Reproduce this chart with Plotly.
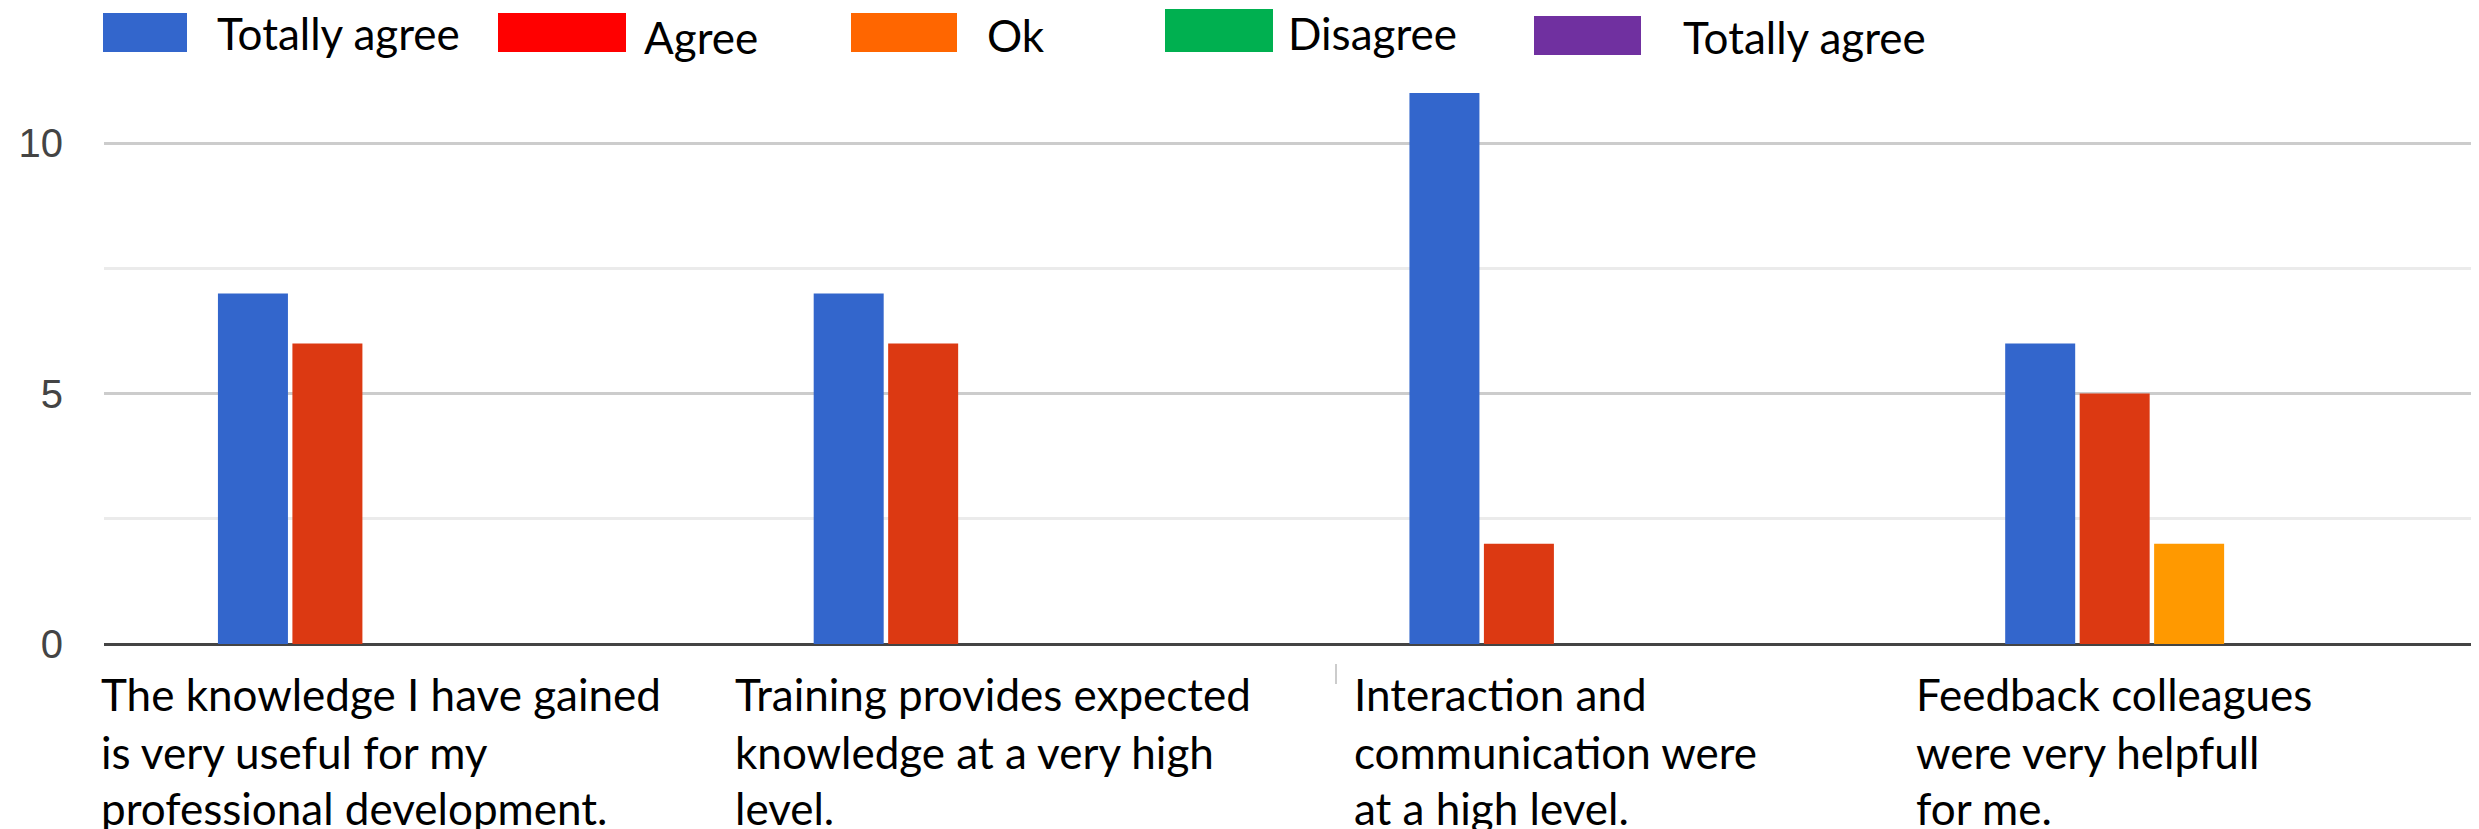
import plotly.graph_objects as go

# ---- data ----
category_keys = ["Q1", "Q2", "Q3", "Q4"]
category_labels = [
    "The knowledge I have gained<br>is very useful for my<br>professional development.",
    "Training provides expected<br>knowledge at a very high<br>level.",
    "Interaction and<br>communication were<br>at a high level.",
    "Feedback colleagues<br>were very helpfull<br>for me.",
]
series_names = ["Totally agree", "Agree", "Ok", "Disagree", "Totally agree"]
totally_agree = [7, 7, 11, 6]
agree = [6, 6, 2, 5]
ok = [0, 0, 0, 2]
disagree = [0, 0, 0, 0]
totally_agree_2 = [0, 0, 0, 0]
series_values = [totally_agree, agree, ok, disagree, totally_agree_2]
bar_colors = ["#3366CC", "#DC3912", "#FF9900", "#109618", "#990099"]
legend_colors = ["#3366CC", "#FF0000", "#FF6600", "#00B050", "#7030A0"]
y_ticks = [0, 5, 10]
y_minor_ticks = [2.5, 7.5]

# ---- layout constants (pixels) ----
W, H = 2479, 829
ML, MR, MT, MB = 96, 0, 10, 193
PW, PH = W - ML - MR, H - MT - MB


def px_x(p):
    return (p - ML) / PW


def px_y(p):
    return (H - MB - p) / PH


fig = go.Figure()
for name, vals, col in zip(series_names, series_values, bar_colors):
    fig.add_trace(go.Bar(
        x=category_keys, y=vals, name=name, showlegend=False,
        marker=dict(color=col, line=dict(width=0)),
    ))

# custom legend (swatches + labels) as in the reference
legend_swatches = [  # x0, x1, y0, y1 in pixels
    (95, 179, 5, 44),
    (490, 618, 5, 44),
    (843, 949, 5, 44),
    (1157, 1265, 1, 44),
    (1526, 1633, 8, 47),
]
legend_text_pos = [(208, 25), (635, 29), (978, 27), (1279, 25), (1674, 29)]
shapes = []
annotations = []
for (x0, x1, y0, y1), col in zip(legend_swatches, legend_colors):
    shapes.append(dict(type="rect", xref="paper", yref="paper",
                       x0=px_x(x0), x1=px_x(x1), y0=px_y(y1), y1=px_y(y0),
                       fillcolor=col, line=dict(width=0), layer="above"))
for (tx, ty), name in zip(legend_text_pos, series_names):
    annotations.append(dict(text=name, xref="paper", yref="paper",
                            x=px_x(tx), y=px_y(ty), xanchor="left", yanchor="middle",
                            showarrow=False, borderpad=0,
                            font=dict(family="Lato", size=44, color="#000")))

# small stray tick mark between labels
shapes.append(dict(type="line", xref="paper", yref="paper",
                   x0=px_x(1328), x1=px_x(1328), y0=px_y(656), y1=px_y(676),
                   line=dict(color="#cccccc", width=2)))

# category labels, one annotation per line
label_left_px = [92, 726, 1345, 1907]
line_centers_px = [686, 744, 800]
for lx, lab in zip(label_left_px, category_labels):
    for ly, line in zip(line_centers_px, lab.split("<br>")):
        annotations.append(dict(text=line, xref="paper", yref="paper",
                                x=px_x(lx), y=px_y(ly), xanchor="left", yanchor="middle",
                                align="left", showarrow=False, borderpad=0,
                                font=dict(family="Lato", size=44, color="#000")))

fig.update_layout(
    width=W, height=H,
    margin=dict(l=ML, r=MR, t=MT, b=MB),
    paper_bgcolor="white", plot_bgcolor="white",
    barmode="group", bargap=0.375, bargroupgap=0.06,
    shapes=shapes, annotations=annotations,
    xaxis=dict(showticklabels=False, showgrid=False, ticks="", showline=False),
    yaxis=dict(range=[0, 12.5], tickvals=y_ticks, showgrid=True,
               gridcolor="#cccccc", gridwidth=3,
               minor=dict(tickvals=y_minor_ticks, showgrid=True, gridcolor="#ebebeb", gridwidth=3),
               zeroline=True, zerolinecolor="#444444", zerolinewidth=3,
               ticks="", ticklabelstandoff=40,
               tickfont=dict(family="Liberation Sans", size=40, color="#444444")),
    showlegend=False,
)

fig.write_html("out.html")
